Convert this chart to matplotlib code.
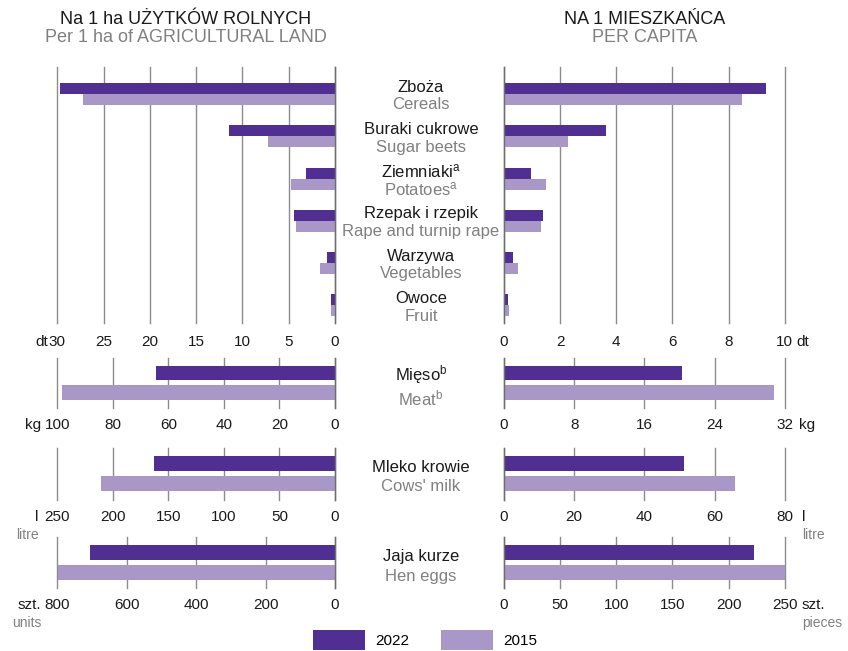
import matplotlib
matplotlib.use('Agg')
import matplotlib.pyplot as plt
from matplotlib.patches import Patch
from matplotlib.transforms import blended_transform_factory

plt.rcParams['font.family'] = ['Liberation Sans', 'DejaVu Sans']
plt.rcParams['mathtext.fontset'] = 'custom'
plt.rcParams['mathtext.rm'] = 'Liberation Sans'
plt.rcParams['mathtext.it'] = 'Liberation Sans'

# ── data ────────────────────────────────────────────────────────────────────
crops_pl = ['Zboża', 'Buraki cukrowe', 'Ziemniaki$^{a}$', 'Rzepak i rzepik',
            'Warzywa', 'Owoce']
crops_en = ['Cereals', 'Sugar beets', 'Potatoes$^{a}$', 'Rape and turnip rape',
            'Vegetables', 'Fruit']
crops_ha_2022 = [29.7, 11.5, 3.1, 4.4, 0.9, 0.4]
crops_ha_2015 = [27.2, 7.2, 4.8, 4.2, 1.6, 0.4]
crops_cap_2022 = [9.35, 3.65, 0.97, 1.40, 0.31, 0.13]
crops_cap_2015 = [8.49, 2.27, 1.50, 1.33, 0.50, 0.17]

meat_ha = [64.5, 98.3]        # 2022, 2015
meat_cap = [20.3, 30.8]
milk_ha = [163, 211]
milk_cap = [51.3, 65.8]
eggs_ha = [706, 799]
eggs_cap = [222.7, 250]

years = ['2022', '2015']
C22 = '#512E91'
C15 = '#A897C7'
GRID = '#8c8c8c'
GRAY_TXT = '#808080'

W, H = 848, 651
fig = plt.figure(figsize=(W / 100, H / 100), dpi=100)


def px_axes(x0, y0, x1, y1):
    return fig.add_axes([x0 / W, 1 - y1 / H, (x1 - x0) / W, (y1 - y0) / H])


def style(ax, ticks, xmax, left, pad):
    ax.set_xticks(ticks)
    ax.set_xticklabels([str(t) for t in ticks], fontsize=11, color='#1a1a1a')
    ax.set_xlim((xmax, 0) if left else (0, xmax))
    ax.tick_params(axis='x', length=0, pad=pad)
    ax.set_yticks([])
    for s in ax.spines.values():
        s.set_visible(False)
    ax.xaxis.grid(True, color=GRID, lw=1)
    for gl in ax.get_xgridlines():
        gl.set_clip_on(False)
    ax.set_axisbelow(True)
    ax.axvline(0, color='#6e6e6e', lw=1, zorder=3, clip_on=False)


def unit(ax, xval, text, dx, pad, sub=None, ha='right'):
    ax.annotate(text, xy=(xval, 0), xycoords=('data', 'axes fraction'),
                xytext=(dx * 0.72, -pad), textcoords='offset points',
                ha=ha, va='top', fontsize=11, color='#1a1a1a')
    if sub:
        ax.annotate(sub, xy=(xval, 0), xycoords=('data', 'axes fraction'),
                    xytext=(dx * 0.72, -pad - 13.5), textcoords='offset points',
                    ha=ha, va='top', fontsize=10, color=GRAY_TXT)


# ── titles ──────────────────────────────────────────────────────────────────
fig.text(186 / W, 1 - 20 / H, 'Na 1 ha UŻYTKÓW ROLNYCH', ha='center', va='center',
         fontsize=13, color='#1a1a1a')
fig.text(186 / W, 1 - 38 / H, 'Per 1 ha of AGRICULTURAL LAND', ha='center',
         va='center', fontsize=13, color=GRAY_TXT)
fig.text(645 / W, 1 - 20 / H, 'NA 1 MIESZKAŃCA', ha='center', va='center',
         fontsize=13, color='#1a1a1a')
fig.text(645 / W, 1 - 38 / H, 'PER CAPITA', ha='center', va='center',
         fontsize=13, color=GRAY_TXT)

# ── crops (top panels) ──────────────────────────────────────────────────────
h = 0.26
pos = list(range(len(crops_pl)))
axL = px_axes(57.3, 67, 335, 323)
axR = px_axes(504, 67, 784.7, 323)
for ax, v22, v15 in [(axL, crops_ha_2022, crops_ha_2015),
                     (axR, crops_cap_2022, crops_cap_2015)]:
    ax.barh([p - h / 2 for p in pos], v22, height=h, color=C22, zorder=2)
    ax.barh([p + h / 2 for p in pos], v15, height=h, color=C15, zorder=2)
    ax.set_ylim(5.42, -0.64)
style(axL, [0, 5, 10, 15, 20, 25, 30], 30, True, 8.5)
style(axR, [0, 2, 4, 6, 8, 10], 10, False, 8.5)
unit(axL, 30, 'dt', -9, 8.5)
unit(axR, 10, 'dt', 12, 8.5, ha='left')

tr = blended_transform_factory(fig.transFigure, axR.transData)
for p, pl, en in zip(pos, crops_pl, crops_en):
    fig.text(421 / W, p - 0.165, pl, transform=tr, ha='center', va='center',
             fontsize=12, color='#1a1a1a')
    fig.text(421 / W, p + 0.255, en, transform=tr, ha='center', va='center',
             fontsize=12, color=GRAY_TXT)

# ── meat, milk, eggs ────────────────────────────────────────────────────────
panels = [
    (358, 408, meat_ha, meat_cap, [0, 20, 40, 60, 80, 100], [0, 8, 16, 24, 32],
     'Mięso$^{b}$', 'Meat$^{b}$', (0.08, 1.32), ('kg', -16, None), ('kg', 14, None)),
    (448, 500, milk_ha, milk_cap, [0, 50, 100, 150, 200, 250], [0, 20, 40, 60, 80],
     'Mleko krowie', "Cows' milk", (0.2, 1.15), ('l', -19, 'litre'), ('l', 17, 'litre')),
    (537, 588, eggs_ha, eggs_cap, [0, 200, 400, 600, 800], [0, 50, 100, 150, 200, 250],
     'Jaja kurze', 'Hen eggs', (0.22, 1.2), ('szt.', -16, 'units'), ('szt.', 17, 'pieces')),
]
hb = 0.75
for y0, y1, vha, vcap, tl, tr_ticks, pl, en, ty, ul, ur in panels:
    a1 = px_axes(57.3, y0, 335, y1)
    a2 = px_axes(504, y0, 784.7, y1)
    for ax, vals in [(a1, vha), (a2, vcap)]:
        ax.barh([0, 1], vals, height=hb, color=[C22, C15], zorder=2)
        ax.set_ylim(1.8, -0.77)
    style(a1, tl, tl[-1], True, 7)
    style(a2, tr_ticks, tr_ticks[-1], False, 7)
    unit(a1, tl[-1], ul[0], ul[1], 7, ul[2])
    unit(a2, tr_ticks[-1], ur[0], ur[1], 7, ur[2], ha='left')
    t2 = blended_transform_factory(fig.transFigure, a2.transData)
    fig.text(421 / W, ty[0], pl, transform=t2, ha='center', va='center',
             fontsize=12, color='#1a1a1a')
    fig.text(421 / W, ty[1], en, transform=t2, ha='center', va='center',
             fontsize=12, color=GRAY_TXT)

# ── legend ──────────────────────────────────────────────────────────────────
handles = [Patch(facecolor=C22, edgecolor='none'), Patch(facecolor=C15, edgecolor='none')]
fig.legend(handles, years, loc='center left', bbox_to_anchor=(313 / W, 1 - 640 / H),
           ncol=2, frameon=False, fontsize=11, handlelength=3.4, handleheight=1.6,
           handletextpad=0.65, columnspacing=2.1, borderpad=0, borderaxespad=0)

plt.savefig('out.png', dpi=100, facecolor='white')
